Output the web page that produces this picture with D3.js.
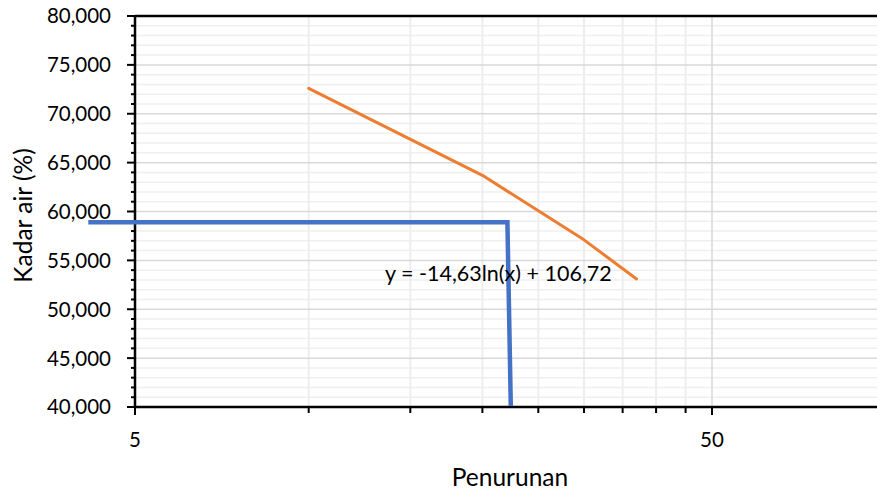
<!DOCTYPE html>
<html><head><meta charset="utf-8">
<script src="https://cdn.jsdelivr.net/npm/d3@7"></script>
<style>body{margin:0;background:#fff} svg{display:block} text{font-family:Lato, "Open Sans", sans-serif; fill:#000}</style>
</head><body><svg id="c" width="877" height="497"></svg>
<script>
// ---- data ----
const orangeX = [10, 20, 30, 37];
const orangeY = [72.6, 63.7, 57.1, 53.1];
const blueX = [4.15, 22.1, 22.4];
const blueY = [58.9, 58.9, 40.1];
const yMajorTicks = [40, 45, 50, 55, 60, 65, 70, 75, 80];
const xMajorTicks = [5, 50];
const xMinorTicks = [10, 15, 20, 25, 30, 35, 40, 45];
const equationText = "y = -14,63ln(x) + 106,72";
const xTitle = "Penurunan";
const yTitle = "Kadar air (%)";

// ---- layout ----
const svg = d3.select("#c");
const L = 135, T = 16, B = 407, R = 877;
const x = d3.scaleLog().domain([5, 100]).range([L, L + 577 * Math.log10(20)]);
const y = d3.scaleLinear().domain([40, 80]).range([B, T]);
const loc = d3.formatLocale({decimal: ",", thousands: ".", grouping: [3], currency: ["", ""]});
const fmtY = loc.format(".3f");
const yMinor = d3.range(40, 81, 1).filter(v => v % 5 !== 0);

const g = svg.append("g");
// gridlines
g.selectAll(".hmin").data(yMinor).join("line")
  .attr("x1", L).attr("x2", R).attr("y1", d => y(d)).attr("y2", d => y(d))
  .attr("stroke", "#efefef").attr("stroke-width", 1.5);
g.selectAll(".vmin").data(xMinorTicks).join("line")
  .attr("x1", d => x(d)).attr("x2", d => x(d)).attr("y1", T).attr("y2", B)
  .attr("stroke", "#eeeeee").attr("stroke-width", 2);
g.selectAll(".hmaj").data(yMajorTicks).join("line")
  .attr("x1", L).attr("x2", R).attr("y1", d => y(d)).attr("y2", d => y(d))
  .attr("stroke", "#d9d9d9").attr("stroke-width", 1.5);
g.selectAll(".vmaj").data(xMajorTicks.slice(1)).join("line")
  .attr("x1", d => x(d)).attr("x2", d => x(d)).attr("y1", T).attr("y2", B)
  .attr("stroke", "#d9d9d9").attr("stroke-width", 1.5);

// y axis ticks
g.selectAll(".ytm").data(yMinor).join("line")
  .attr("x1", L - 4).attr("x2", L).attr("y1", d => y(d)).attr("y2", d => y(d))
  .attr("stroke", "#000").attr("stroke-width", 2);
g.selectAll(".ytM").data(yMajorTicks).join("line")
  .attr("x1", L - 8).attr("x2", L).attr("y1", d => y(d)).attr("y2", d => y(d))
  .attr("stroke", "#000").attr("stroke-width", 2);
g.selectAll(".ytl").data(yMajorTicks).join("text")
  .attr("x", 111).attr("y", d => y(d)).attr("dy", "0.36em")
  .attr("text-anchor", "end").attr("font-size", 20.5).text(d => fmtY(d));

// x axis ticks
g.selectAll(".xtm").data(xMinorTicks).join("line")
  .attr("x1", d => x(d)).attr("x2", d => x(d)).attr("y1", B).attr("y2", B + 6)
  .attr("stroke", "#000").attr("stroke-width", 2);
g.selectAll(".xtM").data(xMajorTicks).join("line")
  .attr("x1", d => x(d)).attr("x2", d => x(d)).attr("y1", B).attr("y2", B + 8)
  .attr("stroke", "#000").attr("stroke-width", 2);
g.selectAll(".xtl").data(xMajorTicks).join("text")
  .attr("x", d => x(d)).attr("y", 447).attr("text-anchor", "middle")
  .attr("font-size", 20.5).text(d => d);

// axis lines
g.append("line").attr("x1", L).attr("x2", L).attr("y1", T - 1).attr("y2", B + 1)
  .attr("stroke", "#000").attr("stroke-width", 2.5);
g.append("line").attr("x1", L).attr("x2", R).attr("y1", B).attr("y2", B)
  .attr("stroke", "#000").attr("stroke-width", 2.5);
g.append("line").attr("x1", L).attr("x2", R).attr("y1", T).attr("y2", T)
  .attr("stroke", "#000").attr("stroke-width", 2.5);

// series
const line = d3.line().x(d => x(d[0])).y(d => y(d[1]));
g.append("path").datum(orangeX.map((v, i) => [v, orangeY[i]]))
  .attr("d", line).attr("fill", "none").attr("stroke", "#ed7d31")
  .attr("stroke-width", 3).attr("stroke-linecap", "round").attr("stroke-linejoin", "round");
g.append("path").datum(blueX.map((v, i) => [v, blueY[i]]))
  .attr("d", line).attr("fill", "none").attr("stroke", "#4472c4")
  .attr("stroke-width", 4.5).attr("stroke-linejoin", "miter");

// equation
g.append("text").attr("x", 385).attr("y", 281).attr("font-size", 21.5).text(equationText);

// titles
g.append("text").attr("x", 510).attr("y", 486).attr("text-anchor", "middle")
  .attr("font-size", 24.5).text(xTitle);
g.append("text").attr("transform", "translate(32,215.5) rotate(-90)")
  .attr("text-anchor", "middle").attr("font-size", 24.5).text(yTitle);
</script></body></html>
